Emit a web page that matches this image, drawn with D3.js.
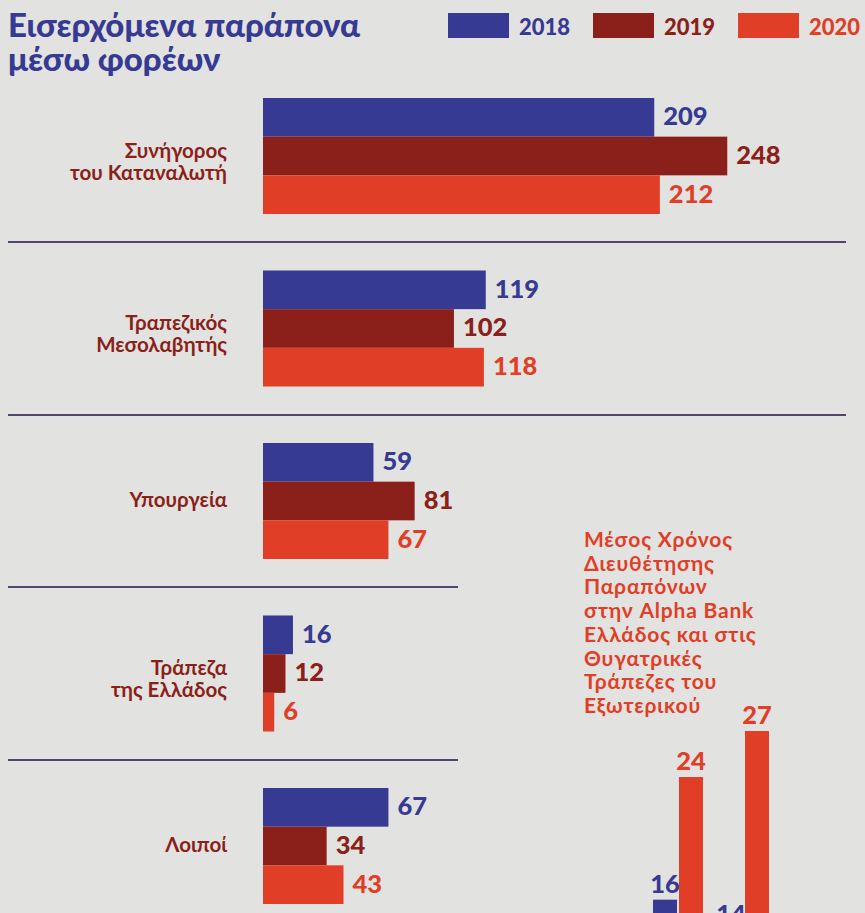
<!DOCTYPE html>
<html lang="el">
<head>
    <meta charset="UTF-8">
    <script src="https://d3js.org/d3.v7.min.js"></script>
    <title>Εισερχόμενα παράπονα</title>
    <style>
        body { margin: 0; background: #e2e2e0; }
        svg { display: block; font-family: Lato, "Open Sans", sans-serif; }
    </style>
</head>
<body>
    <svg width="865" height="913" id="chart"></svg>
    <script>
        // main chart data
        const years = ["2018", "2019", "2020"];
        const colors = ["#363a93", "#8b1f19", "#e03e26"];
        const categories = [
            ["Συνήγορος", "του Καταναλωτή"],
            ["Τραπεζικός", "Μεσολαβητής"],
            ["Υπουργεία"],
            ["Τράπεζα", "της Ελλάδος"],
            ["Λοιποί"]
        ];
        const v2018 = [209, 119, 59, 16, 67];
        const v2019 = [248, 102, 81, 12, 34];
        const v2020 = [212, 118, 67, 6, 43];

        // small side chart (average resolution time)
        const sideTitle = ["Μέσος Χρόνος", "Διευθέτησης", "Παραπόνων", "στην Alpha Bank",
                           "Ελλάδος και στις", "Θυγατρικές", "Τράπεζες του", "Εξωτερικού"];
        const sideGroups = ["Alpha Bank Ελλάδος", "Θυγατρικές Εξωτερικού"];
        const sideYears = ["2018", "2020"];
        const sideColors = ["#363a93", "#e03e26"];
        const side2018 = [16, 14];
        const side2020 = [24, 27];

        const svg = d3.select("#chart");
        const series = [v2018, v2019, v2020];

        // title
        svg.append("text").attr("x", 8).attr("y", 37)
            .attr("fill", "#363a93").attr("font-size", 33).attr("font-weight", "900")
            .text("Εισερχόμενα παράπονα");
        svg.append("text").attr("x", 8).attr("y", 71)
            .attr("fill", "#363a93").attr("font-size", 33).attr("font-weight", "900")
            .text("μέσω φορέων");

        // legend
        const legX = d3.scalePoint().domain(years).range([448, 738]);
        years.forEach((yr, i) => {
            svg.append("rect").attr("x", legX(yr)).attr("y", 13)
                .attr("width", 61).attr("height", 25).attr("fill", colors[i]);
            svg.append("text").attr("x", legX(yr) + 71).attr("y", 35)
                .attr("fill", colors[i]).attr("font-size", 22).attr("font-weight", "900")
                .text(yr);
        });

        // scales
        const x = d3.scaleLinear().domain([0, 250]).range([263, 731]);
        const yGroup = d3.scaleBand().domain(d3.range(categories.length))
            .range([98, 904]).paddingInner(0.3275).paddingOuter(0);
        const ySub = d3.scaleBand().domain(years).range([0, yGroup.bandwidth()]);

        // separators between groups
        for (let i = 0; i < categories.length - 1; i++) {
            const y0 = yGroup(i) + yGroup.bandwidth();
            const y1 = yGroup(i + 1);
            const ym = Math.round((y0 + y1) / 2);
            svg.append("line")
                .attr("x1", 8).attr("x2", i < 2 ? 846 : 458)
                .attr("y1", ym).attr("y2", ym)
                .attr("stroke", "#54456f").attr("stroke-width", 2);
        }

        categories.forEach((lines, c) => {
            const g = svg.append("g").attr("transform", "translate(0," + yGroup(c) + ")");
            const center = yGroup.bandwidth() / 2;
            lines.forEach((ln, j) => {
                g.append("text")
                    .attr("x", 227)
                    .attr("y", center + 6 + j * 21.5 - (lines.length - 1) * 4)
                    .attr("text-anchor", "end")
                    .attr("fill", "#8b1f19").attr("font-size", 20.5).attr("font-weight", "bold")
                    .text(ln);
            });
            years.forEach((yr, s) => {
                const val = series[s][c];
                g.append("rect")
                    .attr("x", x(0)).attr("y", ySub(yr))
                    .attr("width", x(val) - x(0)).attr("height", ySub.bandwidth())
                    .attr("fill", colors[s]);
                g.append("text")
                    .attr("x", x(val) + 9)
                    .attr("y", ySub(yr) + ySub.bandwidth() / 2 + 8)
                    .attr("fill", colors[s]).attr("font-size", 25.5).attr("font-weight", "900")
                    .text(val);
            });
        });

        // side chart
        sideTitle.forEach((ln, i) => {
            svg.append("text").attr("x", 584).attr("y", 547 + i * 23.7)
                .attr("fill", "#e03e26").attr("font-size", 21).attr("font-weight", "bold")
                .attr("letter-spacing", 0.8)
                .text(ln);
        });

        const sx = d3.scaleBand().domain(sideGroups).range([653, 785]);
        const sxSub = d3.scaleBand().domain(sideYears).range([0, 52]);
        const sy = d3.scaleLinear().domain([0, 27]).range([1145, 731]);
        const sideSeries = [side2018, side2020];

        sideGroups.forEach((grp, gi) => {
            sideYears.forEach((yr, s) => {
                const val = sideSeries[s][gi];
                const bx = sx(grp) + sxSub(yr);
                svg.append("rect")
                    .attr("x", bx).attr("y", sy(val))
                    .attr("width", 24).attr("height", sy(0) - sy(val))
                    .attr("fill", sideColors[s]);
                svg.append("text")
                    .attr("x", bx + 12).attr("y", sy(val) - 7)
                    .attr("text-anchor", "middle")
                    .attr("fill", sideColors[s]).attr("font-size", 25.5).attr("font-weight", "900")
                    .text(val);
            });
        });
    </script>
</body>
</html>
